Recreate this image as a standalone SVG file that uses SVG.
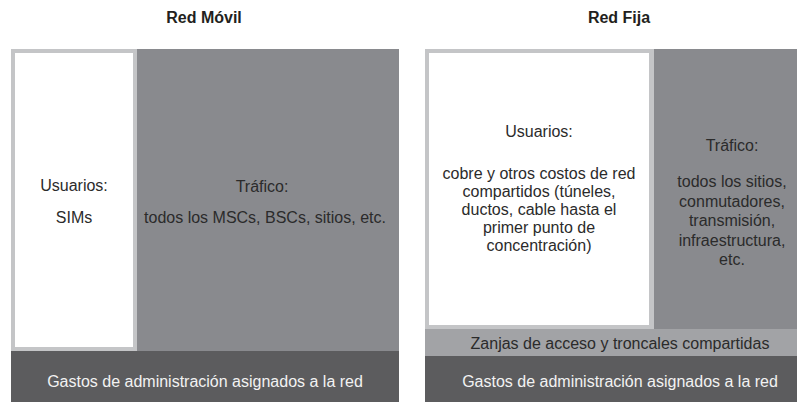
<svg xmlns="http://www.w3.org/2000/svg" width="799" height="402" viewBox="0 0 799 402">
<style>
  text { font-family: "Liberation Sans", Arial, sans-serif; font-size: 16px; text-anchor: middle; }
  .title { font-weight: bold; fill: #231f20; }
  .dark { fill: #2b2b2b; }
  .light { fill: #f2f2f2; }
  .border { fill: #c4c5c7; }
  .white { fill: #ffffff; }
  .mid { fill: #898a8e; }
  .band { fill: #5c5c5e; }
  .zanjas { fill: #a2a3a6; }
</style>
<rect width="799" height="402" fill="#ffffff"/>
<g id="movil">
  <text class="title" x="204" y="23">Red Móvil</text>
  <g id="movil-usuarios">
    <rect class="border" x="11" y="49" width="126" height="302"/>
    <rect class="white" x="15" y="53" width="118" height="294"/>
    <text class="dark" x="74" y="191">Usuarios:</text>
    <text class="dark" x="74" y="223">SIMs</text>
  </g>
  <g id="movil-trafico">
    <rect class="mid" x="137" y="49" width="262" height="302"/>
    <text class="dark" x="262" y="192">Tráfico:</text>
    <text class="dark" x="265" y="223">todos los MSCs, BSCs, sitios, etc.</text>
  </g>
  <g id="movil-gastos">
    <rect class="band" x="11" y="351" width="388" height="51"/>
    <text class="light" x="205" y="387">Gastos de administración asignados a la red</text>
  </g>
</g>
<g id="fija">
  <text class="title" x="619" y="23">Red Fija</text>
  <g id="fija-usuarios">
    <rect class="border" x="425" y="49" width="229" height="280"/>
    <rect class="white" x="429" y="53" width="220" height="272"/>
    <text class="dark" x="539" y="137">Usuarios:</text>
    <text class="dark" x="539" y="179">cobre y otros costos de red</text>
    <text class="dark" x="539" y="197">compartidos (túneles,</text>
    <text class="dark" x="539" y="215">ductos, cable hasta el</text>
    <text class="dark" x="539" y="233">primer punto de</text>
    <text class="dark" x="539" y="251">concentración)</text>
  </g>
  <g id="fija-trafico">
    <rect class="mid" x="654" y="49" width="143" height="280"/>
    <text class="dark" x="732" y="151">Tráfico:</text>
    <text class="dark" x="732" y="187">todos los sitios,</text>
    <text class="dark" x="732" y="206.5">conmutadores,</text>
    <text class="dark" x="732" y="226">transmisión,</text>
    <text class="dark" x="732" y="245.5">infraestructura,</text>
    <text class="dark" x="732" y="265">etc.</text>
  </g>
  <g id="fija-zanjas">
    <rect class="zanjas" x="425" y="329" width="372" height="27"/>
    <text class="dark" x="620" y="349">Zanjas de acceso y troncales compartidas</text>
  </g>
  <g id="fija-gastos">
    <rect class="band" x="425" y="356" width="372" height="46"/>
    <text class="light" x="620" y="387">Gastos de administración asignados a la red</text>
  </g>
</g>
<g id="connectors"></g>
</svg>
